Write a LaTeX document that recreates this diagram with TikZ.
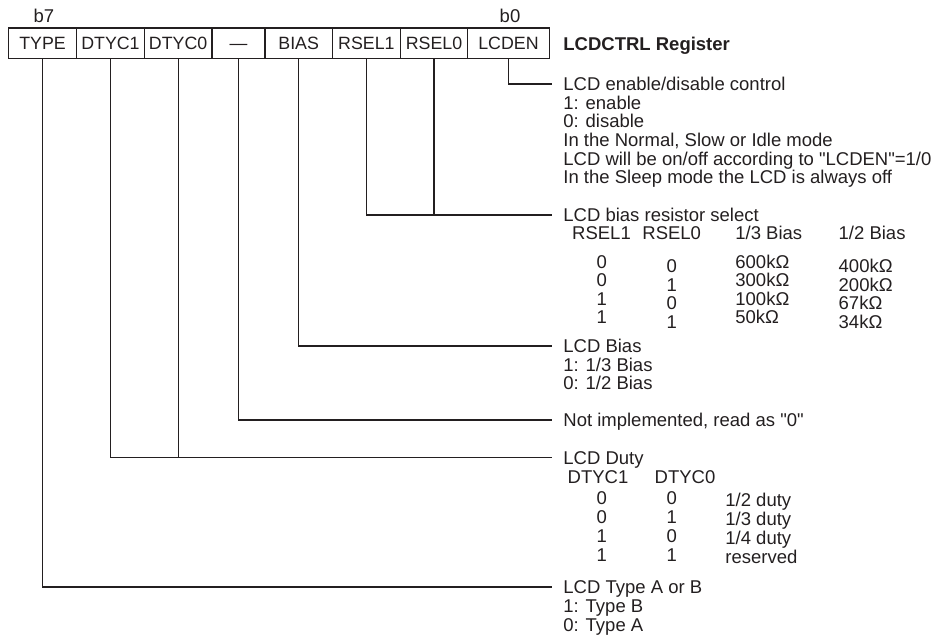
\documentclass[tikz,border=0pt]{standalone}
\usepackage{fontspec}
\setmainfont{Liberation Sans}[Ligatures=TeXOff]
\definecolor{ink}{RGB}{35,31,32}
\tikzset{
  bit/.style={draw=ink, line width=0.6pt, minimum height=15.35pt, inner sep=0pt,
    text height=6.37pt, text depth=0pt, text=ink, font=\fontsize{8.9}{9}\selectfont},
  txt/.style={anchor=west, inner sep=0pt, text height=6.6pt, text depth=0pt,
    text=ink, font=\fontsize{9.25}{9.35}\selectfont},
  val/.style={txt, anchor=center},
  wire/.style={draw=ink, line width=0.6pt},
}
\begin{document}
\begin{tikzpicture}[x=0.5pt, y=-0.5pt]

    \useasboundingbox (0,0) rectangle (938,639);

    % register bits
    \node [bit, minimum width=34pt]    (type)  at ( 42.6, 43.35) {TYPE};
    \node [bit, minimum width=33.85pt] (dtyc1) at (110.45, 43.35) {DTYC1};
    \node [bit, minimum width=33.85pt] (dtyc0) at (178.15, 43.35) {DTYC0};
    \node [bit, minimum width=26.5pt]  (nc)    at (238.5, 43.35) {\textemdash};
    \node [bit, minimum width=33.7pt]  (bias)  at (298.7, 43.35) {BIAS};
    \node [bit, minimum width=34pt]    (rsel1) at (366.4, 43.35) {RSEL1};
    \node [bit, minimum width=33.65pt] (rsel0) at (434.05, 43.35) {RSEL0};
    \node [bit, minimum width=40.8pt]  (lcden) at (508.5, 43.35) {LCDEN};

    \node [val] (b7) at ( 44, 16) {b7};
    \node [val] (b0) at (510, 16) {b0};
    \node [txt, font=\fontsize{9.25}{9.35}\selectfont\bfseries] (title) at (563, 44) {LCDCTRL Register};

    % LCDEN
    \node [txt] (enhd) at (563,  84)   {LCD enable/disable control};
    \node [txt] (en1)  at (563, 102.6) {1: enable};
    \node [txt] (en2)  at (563, 121.2) {0: disable};
    \node [txt] (en3)  at (563, 139.8) {In the Normal, Slow or Idle mode};
    \node [txt] (en4)  at (563, 158.4) {LCD will be on/off according to "LCDEN"=1/0};
    \node [txt] (en5)  at (563, 177)   {In the Sleep mode the LCD is always off};

    % RSEL1, RSEL0
    \node [txt] (rselhd) at (563, 215) {LCD bias resistor select};
    \node [val] (rsh1) at (601.5, 233.3) {RSEL1};
    \node [val] (rsh0) at (671.7, 233.3) {RSEL0};
    \node [txt] (rsh3) at (735,   233.3) {1/3 Bias};
    \node [txt] (rsh2) at (838.3, 233.3) {1/2 Bias};

    \node [val] (rsa1) at (601.7, 261.5) {0};
    \node [val] (rsa2) at (601.7, 280)   {0};
    \node [val] (rsa3) at (601.7, 298.5) {1};
    \node [val] (rsa4) at (601.7, 317)   {1};
    \node [val] (rsb1) at (671.7, 266)   {0};
    \node [val] (rsb2) at (671.7, 284.5) {1};
    \node [val] (rsb3) at (671.7, 303)   {0};
    \node [val] (rsb4) at (671.7, 321.5) {1};
    \node [txt] (rsc1) at (735, 261.5) {600kΩ};
    \node [txt] (rsc2) at (735, 280)   {300kΩ};
    \node [txt] (rsc3) at (735, 298.5) {100kΩ};
    \node [txt] (rsc4) at (735, 317)   {50kΩ};
    \node [txt] (rsd1) at (838.3, 266)   {400kΩ};
    \node [txt] (rsd2) at (838.3, 284.5) {200kΩ};
    \node [txt] (rsd3) at (838.3, 303)   {67kΩ};
    \node [txt] (rsd4) at (838.3, 321.5) {34kΩ};

    % BIAS
    \node [txt] (biashd) at (563, 346)   {LCD Bias};
    \node [txt] (bias1)  at (563, 364.6) {1: 1/3 Bias};
    \node [txt] (bias2)  at (563, 383.2) {0: 1/2 Bias};

    % unused bit
    \node [txt] (nchd) at (563, 420) {Not implemented, read as "0"};

    % DTYC1, DTYC0
    \node [txt] (dtyhd) at (563, 457.5) {LCD Duty};
    \node [val] (dth1) at (598, 476.7) {DTYC1};
    \node [val] (dth0) at (685, 476.7) {DTYC0};

    \node [val] (dta1) at (601.7, 498)   {0};
    \node [val] (dta2) at (601.7, 517)   {0};
    \node [val] (dta3) at (601.7, 535.7) {1};
    \node [val] (dta4) at (601.7, 555)   {1};
    \node [val] (dtb1) at (671.7, 498)   {0};
    \node [val] (dtb2) at (671.7, 517)   {1};
    \node [val] (dtb3) at (671.7, 535.7) {0};
    \node [val] (dtb4) at (671.7, 555)   {1};
    \node [txt] (dtc1) at (725, 500)   {1/2 duty};
    \node [txt] (dtc2) at (725, 519)   {1/3 duty};
    \node [txt] (dtc3) at (725, 537.7) {1/4 duty};
    \node [txt] (dtc4) at (725, 557)   {reserved};

    % TYPE
    \node [txt] (typehd) at (563, 587)   {LCD Type A or B};
    \node [txt] (type1)  at (563, 605.8) {1: Type B};
    \node [txt] (type2)  at (563, 624.6) {0: Type A};

    % leader lines
    \draw [wire] (lcden.south) |- ([xshift=-5.65pt]enhd.west);
    \draw [wire] (rsel1.south) |- ([xshift=-5.65pt]rselhd.west);
    \draw [wire] (rsel0.south) -- (rsel0.south |- rselhd.west);
    \draw [wire] (bias.south) |- ([xshift=-5.65pt]biashd.west);
    \draw [wire] (nc.south) |- ([xshift=-5.65pt]nchd.west);
    \draw [wire] (dtyc1.south) |- ([xshift=-5.65pt]dtyhd.west);
    \draw [wire] (dtyc0.south) -- (dtyc0.south |- dtyhd.west);
    \draw [wire] (type.south) |- ([xshift=-5.65pt]typehd.west);

\end{tikzpicture}
\end{document}
